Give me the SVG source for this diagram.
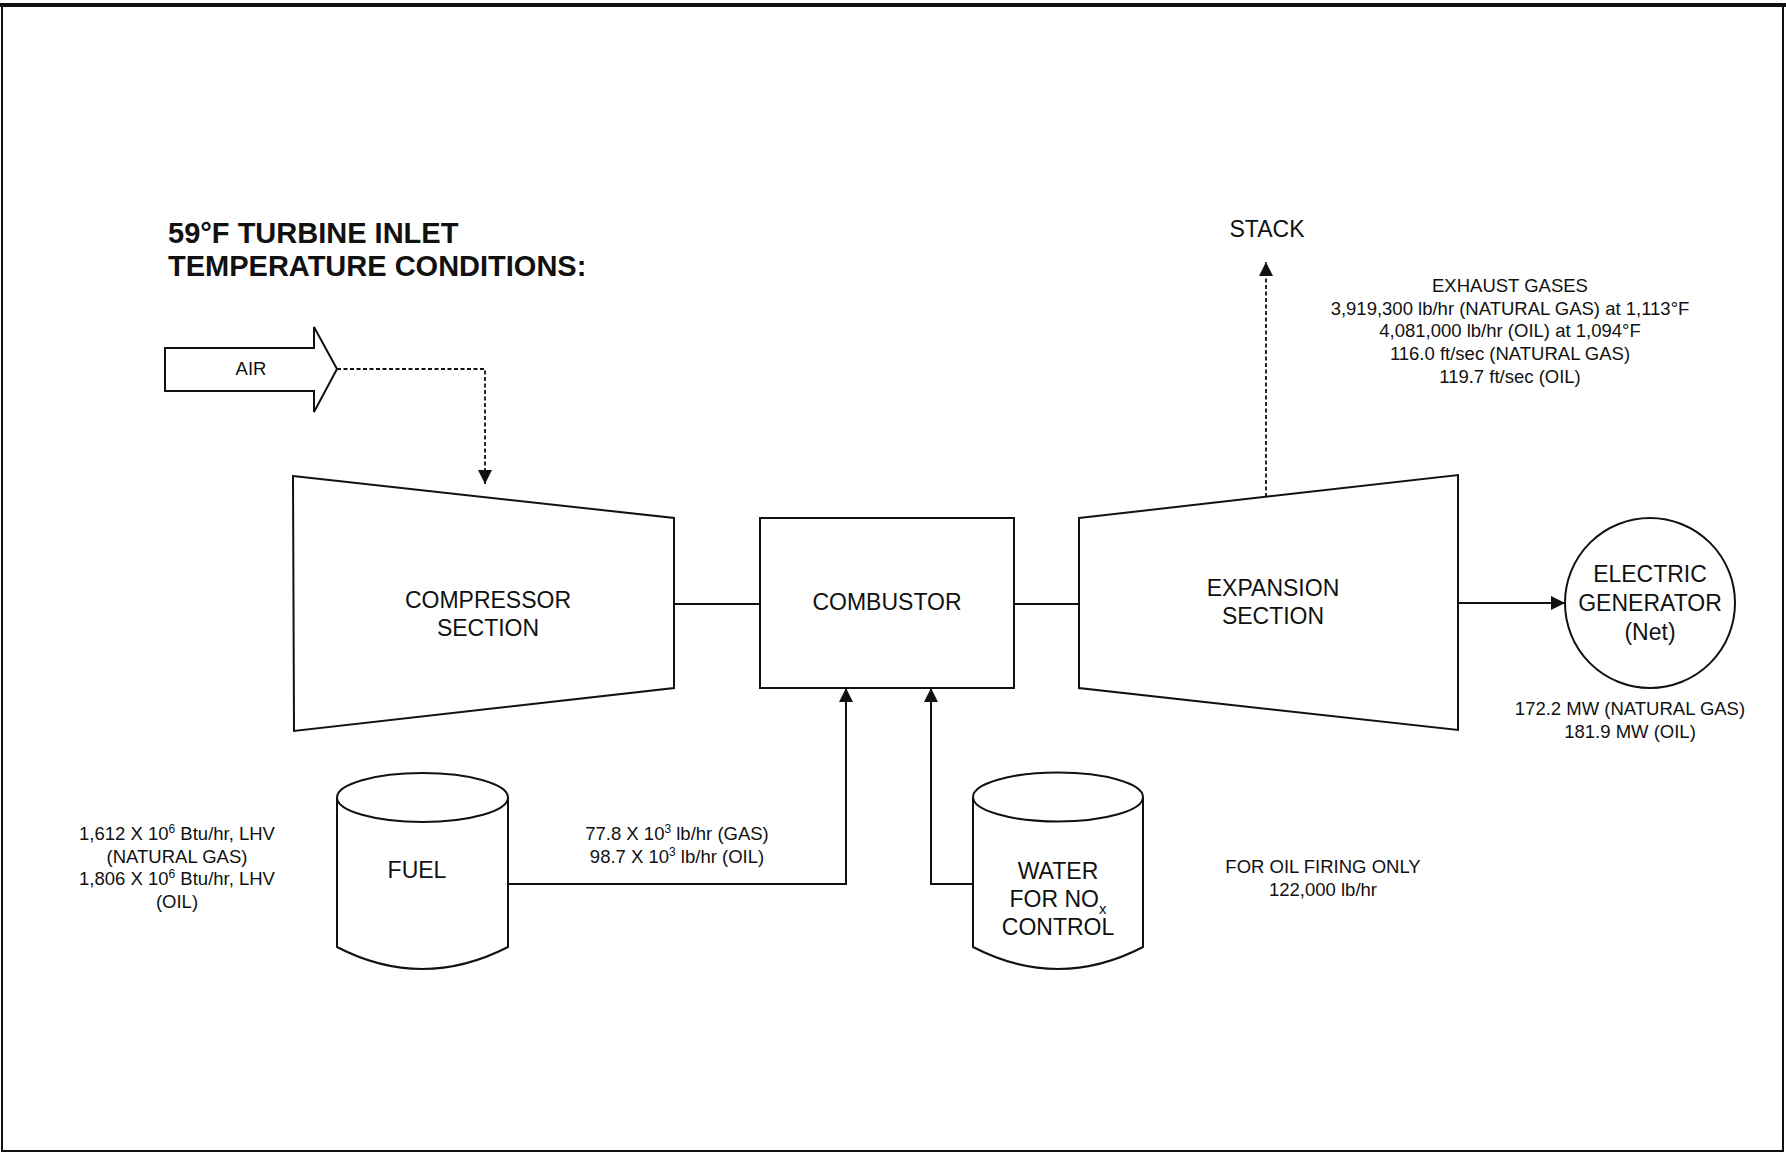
<svg xmlns="http://www.w3.org/2000/svg" width="1786" height="1153" viewBox="0 0 1786 1153">
<style>
.shape{fill:#fff;stroke:#111;stroke-width:2}
.line{fill:none;stroke:#111;stroke-width:2}
.dash{fill:none;stroke:#111;stroke-width:1.8;stroke-dasharray:4 2.5}
.lbl{font-family:"Liberation Sans",Arial,sans-serif;font-size:23px;fill:#111;text-anchor:middle}
.sm{font-family:"Liberation Sans",Arial,sans-serif;font-size:18.5px;fill:#111;text-anchor:middle}
.title{font-family:"Liberation Sans",Arial,sans-serif;font-size:29px;font-weight:bold;fill:#111}
</style>
<defs>
<marker id="ah" markerUnits="userSpaceOnUse" markerWidth="14" markerHeight="14" refX="14" refY="7" orient="auto">
<path d="M0,0 L14,7 L0,14 z" fill="#111"/>
</marker>
</defs>
<rect width="1786" height="1153" fill="#fff"/>
<g id="border">
<rect x="2" y="5" width="1781" height="1146" fill="none" stroke="#111" stroke-width="2"/>
<line x1="0" y1="5" x2="1786" y2="5" stroke="#111" stroke-width="4"/>
</g>
<g id="title">
<text class="title" x="168" y="243">59°F TURBINE INLET</text>
<text class="title" x="168" y="276">TEMPERATURE CONDITIONS:</text>
</g>
<g id="connectors">
<path class="dash" d="M337,369 H485 V484" marker-end="url(#ah)"/>
<path class="dash" d="M1266,497 V262" marker-end="url(#ah)"/>
<line class="line" x1="674" y1="604" x2="760" y2="604"/>
<line class="line" x1="1014" y1="604" x2="1079" y2="604"/>
<path class="line" d="M1458,603 H1565" marker-end="url(#ah)"/>
<path class="line" d="M508,884 H846 V688" marker-end="url(#ah)"/>
<path class="line" d="M973,884 H931 V688" marker-end="url(#ah)"/>
</g>
<g id="air">
<path class="shape" d="M165,348 H314 V327 L337,369 L314,412 V391 H165 Z"/>
<text class="sm" x="251" y="375">AIR</text>
</g>
<g id="compressor">
<path class="shape" d="M293,476 L674,518 L674,688 L294,731 Z"/>
<text class="lbl" x="488" y="608">COMPRESSOR</text>
<text class="lbl" x="488" y="636">SECTION</text>
</g>
<g id="combustor">
<rect class="shape" x="760" y="518" width="254" height="170"/>
<text class="lbl" x="887" y="610">COMBUSTOR</text>
</g>
<g id="expansion">
<path class="shape" d="M1079,518 L1458,475 L1458,730 L1079,688 Z"/>
<text class="lbl" x="1273" y="596">EXPANSION</text>
<text class="lbl" x="1273" y="624">SECTION</text>
</g>
<g id="stack">
<text class="lbl" x="1267" y="237">STACK</text>
</g>
<g id="exhaust-data">
<text class="sm" x="1510" y="292">EXHAUST GASES</text>
<text class="sm" x="1510" y="315">3,919,300 lb/hr (NATURAL GAS) at 1,113°F</text>
<text class="sm" x="1510" y="337">4,081,000 lb/hr (OIL) at 1,094°F</text>
<text class="sm" x="1510" y="360">116.0 ft/sec (NATURAL GAS)</text>
<text class="sm" x="1510" y="383">119.7 ft/sec (OIL)</text>
</g>
<g id="generator">
<circle class="shape" cx="1650" cy="603" r="85"/>
<text class="lbl" x="1650" y="582">ELECTRIC</text>
<text class="lbl" x="1650" y="611">GENERATOR</text>
<text class="lbl" x="1650" y="640">(Net)</text>
</g>
<g id="generator-data">
<text class="sm" x="1630" y="715">172.2 MW (NATURAL GAS)</text>
<text class="sm" x="1630" y="738">181.9 MW (OIL)</text>
</g>
<g id="fuel">
<path class="shape" d="M337,798 V947 Q422,991 508,947 V798"/>
<ellipse class="shape" cx="422.5" cy="797.5" rx="85.5" ry="24.5"/>
<text class="lbl" x="417" y="878">FUEL</text>
</g>
<g id="fuel-heat-data">
<text class="sm" x="177" y="840">1,612 X 10<tspan font-size="12" dy="-7">6</tspan><tspan dy="7"> Btu/hr, LHV</tspan></text>
<text class="sm" x="177" y="862.5">(NATURAL GAS)</text>
<text class="sm" x="177" y="885">1,806 X 10<tspan font-size="12" dy="-7">6</tspan><tspan dy="7"> Btu/hr, LHV</tspan></text>
<text class="sm" x="177" y="907.5">(OIL)</text>
</g>
<g id="fuel-flow-data">
<text class="sm" x="677" y="840">77.8 X 10<tspan font-size="12" dy="-7">3</tspan><tspan dy="7"> lb/hr (GAS)</tspan></text>
<text class="sm" x="677" y="862.5">98.7 X 10<tspan font-size="12" dy="-7">3</tspan><tspan dy="7"> lb/hr (OIL)</tspan></text>
</g>
<g id="water">
<path class="shape" d="M973,798 V947 Q1058,991 1143,947 V798"/>
<ellipse class="shape" cx="1058" cy="797" rx="85" ry="24.5"/>
<text class="lbl" x="1058" y="879">WATER</text>
<text class="lbl" x="1058" y="907">FOR NO<tspan font-size="15" dy="7">x</tspan></text>
<text class="lbl" x="1058" y="935">CONTROL</text>
</g>
<g id="water-data">
<text class="sm" x="1323" y="873">FOR OIL FIRING ONLY</text>
<text class="sm" x="1323" y="896">122,000 lb/hr</text>
</g>
</svg>
